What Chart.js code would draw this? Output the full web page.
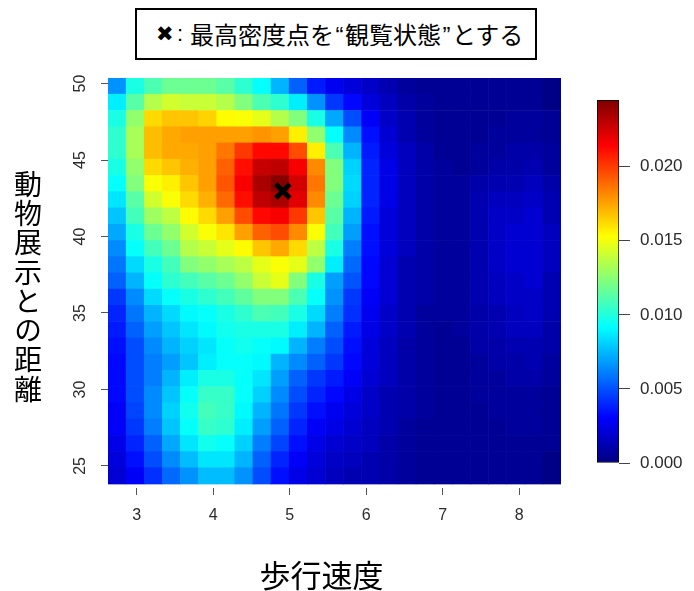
<!DOCTYPE html>
<html>
<head>
<meta charset="utf-8">
<script src="https://cdn.jsdelivr.net/npm/chart.js@4.4.1/dist/chart.umd.min.js"></script>
<style>
  html, body { margin: 0; padding: 0; background: #fff; }
  body { width: 694px; height: 591px; position: relative; overflow: hidden; font-family: "Noto Sans CJK JP", sans-serif; }
  #main { position: absolute; left: 0; top: 0; }
  #cbar { position: absolute; left: 560px; top: 0; }
  #legend { position: absolute; left: 135px; top: 8px; width: 398px; height: 48px; border: 2px solid #000; background: #fff; }
  #legend span { position: absolute; top: 0; line-height: 48px; white-space: nowrap; color: #000; }
  #lx { left: 19px; font-family: "DejaVu Sans", sans-serif; font-size: 21px; }
  #lc { left: 40px; font-family: "Liberation Sans", sans-serif; font-size: 22px; }
  #lt { left: 53px; font-family: "Noto Sans CJK JP", sans-serif; font-size: 24px; }
  #lt i { font-style: normal; font-family: "Liberation Sans", sans-serif; display: inline-block; width: 11px; text-align: center; position: static; }
  #xt { position: absolute; left: 0; width: 643px; top: 556px; text-align: center; font-size: 31px; line-height: 36px; color: #000; }
  #yt { position: absolute; left: 14px; top: 170px; writing-mode: vertical-rl; font-size: 28px; line-height: 28px; letter-spacing: 1.3px; color: #000; }
</style>
</head>
<body>
<canvas id="main" width="694" height="591"></canvas>
<canvas id="cbar" width="134" height="591"></canvas>
<div id="legend"><span id="lx">✖</span><span id="lc">:</span><span id="lt">最高密度点を<i>“</i>観覧状態<i>”</i>とする</span></div>
<div id="xt">歩行速度</div>
<div id="yt">動物展示との距離</div>
<script>
// ---- data (kde grid) ----
// walking speed grid (x), column centres
const xGrid = [2.743, 2.980, 3.217, 3.453, 3.690, 3.927, 4.164, 4.401, 4.637, 4.874, 5.111, 5.348, 5.585,
               5.821, 6.058, 6.295, 6.532, 6.769, 7.005, 7.242, 7.479, 7.716, 7.953, 8.189, 8.426];
// distance grid (y), row centres from top to bottom
const yGrid = [49.83, 48.77, 47.70, 46.64, 45.58, 44.52, 43.46, 42.40, 41.34, 40.27, 39.21, 38.15, 37.09,
               36.03, 34.97, 33.90, 32.84, 31.78, 30.72, 29.66, 28.60, 27.54, 26.47, 25.41, 24.35];
// density values, one row per yGrid entry (top -> bottom), one column per xGrid entry
const density = [
  [0.0066,0.0098,0.0110,0.0118,0.0118,0.0118,0.0113,0.0103,0.0093,0.0074,0.0054,0.0037,0.0027,0.0022,0.0017,0.0012,0.0007,0.0005,0.0005,0.0005,0.0005,0.0005,0.0005,0.0005,0.0002],
  [0.0088,0.0113,0.0135,0.0142,0.0140,0.0140,0.0135,0.0123,0.0110,0.0103,0.0088,0.0066,0.0044,0.0032,0.0022,0.0015,0.0010,0.0007,0.0005,0.0005,0.0005,0.0005,0.0005,0.0005,0.0002],
  [0.0098,0.0127,0.0162,0.0167,0.0167,0.0164,0.0154,0.0152,0.0147,0.0135,0.0123,0.0098,0.0071,0.0049,0.0029,0.0017,0.0012,0.0007,0.0005,0.0005,0.0005,0.0005,0.0007,0.0007,0.0005],
  [0.0103,0.0132,0.0169,0.0174,0.0176,0.0176,0.0176,0.0176,0.0179,0.0176,0.0157,0.0127,0.0093,0.0064,0.0034,0.0020,0.0012,0.0007,0.0005,0.0005,0.0005,0.0007,0.0007,0.0007,0.0005],
  [0.0103,0.0132,0.0169,0.0174,0.0174,0.0176,0.0186,0.0201,0.0213,0.0213,0.0196,0.0157,0.0110,0.0074,0.0037,0.0022,0.0015,0.0010,0.0005,0.0005,0.0007,0.0007,0.0010,0.0010,0.0007],
  [0.0098,0.0127,0.0162,0.0167,0.0172,0.0176,0.0191,0.0211,0.0228,0.0230,0.0216,0.0181,0.0123,0.0081,0.0039,0.0025,0.0015,0.0010,0.0007,0.0005,0.0007,0.0010,0.0010,0.0012,0.0007],
  [0.0093,0.0123,0.0152,0.0157,0.0167,0.0176,0.0194,0.0216,0.0235,0.0243,0.0225,0.0186,0.0123,0.0083,0.0039,0.0025,0.0015,0.0010,0.0007,0.0007,0.0010,0.0012,0.0012,0.0015,0.0010],
  [0.0086,0.0113,0.0142,0.0152,0.0162,0.0172,0.0189,0.0211,0.0230,0.0235,0.0221,0.0181,0.0118,0.0081,0.0039,0.0025,0.0015,0.0010,0.0007,0.0007,0.0012,0.0015,0.0015,0.0017,0.0012],
  [0.0078,0.0108,0.0130,0.0137,0.0154,0.0162,0.0176,0.0196,0.0213,0.0216,0.0201,0.0167,0.0113,0.0074,0.0037,0.0022,0.0015,0.0010,0.0007,0.0007,0.0012,0.0017,0.0017,0.0020,0.0012],
  [0.0071,0.0098,0.0118,0.0127,0.0142,0.0152,0.0159,0.0176,0.0191,0.0196,0.0181,0.0152,0.0108,0.0069,0.0034,0.0022,0.0015,0.0010,0.0007,0.0007,0.0012,0.0017,0.0020,0.0020,0.0015],
  [0.0064,0.0093,0.0108,0.0118,0.0135,0.0140,0.0147,0.0154,0.0167,0.0174,0.0162,0.0137,0.0098,0.0061,0.0034,0.0022,0.0015,0.0010,0.0007,0.0007,0.0012,0.0017,0.0020,0.0020,0.0015],
  [0.0059,0.0083,0.0098,0.0108,0.0123,0.0127,0.0132,0.0137,0.0147,0.0152,0.0147,0.0127,0.0088,0.0056,0.0032,0.0020,0.0012,0.0010,0.0007,0.0007,0.0012,0.0017,0.0020,0.0020,0.0015],
  [0.0054,0.0074,0.0093,0.0103,0.0108,0.0113,0.0118,0.0127,0.0140,0.0147,0.0123,0.0098,0.0069,0.0051,0.0032,0.0020,0.0012,0.0010,0.0007,0.0007,0.0012,0.0015,0.0017,0.0020,0.0012],
  [0.0044,0.0064,0.0083,0.0093,0.0098,0.0103,0.0108,0.0115,0.0123,0.0123,0.0110,0.0093,0.0066,0.0044,0.0029,0.0020,0.0012,0.0010,0.0007,0.0007,0.0012,0.0015,0.0017,0.0017,0.0012],
  [0.0039,0.0059,0.0074,0.0083,0.0091,0.0093,0.0098,0.0103,0.0110,0.0108,0.0098,0.0083,0.0061,0.0042,0.0027,0.0017,0.0012,0.0007,0.0007,0.0007,0.0010,0.0012,0.0015,0.0017,0.0012],
  [0.0037,0.0054,0.0069,0.0078,0.0086,0.0091,0.0096,0.0098,0.0098,0.0098,0.0088,0.0074,0.0054,0.0037,0.0025,0.0017,0.0012,0.0007,0.0005,0.0007,0.0010,0.0012,0.0015,0.0015,0.0010],
  [0.0034,0.0049,0.0064,0.0074,0.0081,0.0086,0.0093,0.0096,0.0093,0.0091,0.0074,0.0061,0.0049,0.0034,0.0022,0.0015,0.0010,0.0007,0.0005,0.0005,0.0010,0.0010,0.0012,0.0012,0.0010],
  [0.0032,0.0049,0.0061,0.0069,0.0078,0.0088,0.0093,0.0093,0.0091,0.0074,0.0064,0.0054,0.0044,0.0032,0.0022,0.0015,0.0010,0.0007,0.0005,0.0005,0.0007,0.0010,0.0010,0.0012,0.0007],
  [0.0032,0.0049,0.0061,0.0074,0.0088,0.0098,0.0098,0.0093,0.0086,0.0069,0.0054,0.0044,0.0037,0.0029,0.0020,0.0015,0.0010,0.0007,0.0005,0.0005,0.0007,0.0007,0.0010,0.0010,0.0007],
  [0.0032,0.0049,0.0064,0.0078,0.0093,0.0105,0.0105,0.0093,0.0081,0.0064,0.0049,0.0039,0.0032,0.0025,0.0017,0.0012,0.0010,0.0007,0.0005,0.0005,0.0007,0.0007,0.0007,0.0007,0.0005],
  [0.0029,0.0047,0.0064,0.0081,0.0096,0.0108,0.0105,0.0091,0.0074,0.0059,0.0044,0.0034,0.0027,0.0022,0.0017,0.0012,0.0010,0.0007,0.0005,0.0005,0.0005,0.0007,0.0007,0.0007,0.0005],
  [0.0029,0.0044,0.0061,0.0078,0.0093,0.0105,0.0103,0.0088,0.0069,0.0054,0.0039,0.0029,0.0025,0.0020,0.0015,0.0012,0.0007,0.0005,0.0005,0.0005,0.0005,0.0005,0.0007,0.0007,0.0005],
  [0.0025,0.0039,0.0054,0.0071,0.0086,0.0096,0.0093,0.0081,0.0061,0.0047,0.0034,0.0025,0.0020,0.0017,0.0015,0.0010,0.0007,0.0005,0.0005,0.0005,0.0005,0.0005,0.0005,0.0005,0.0005],
  [0.0022,0.0034,0.0049,0.0064,0.0076,0.0086,0.0086,0.0074,0.0054,0.0039,0.0029,0.0022,0.0017,0.0015,0.0012,0.0010,0.0007,0.0005,0.0005,0.0005,0.0005,0.0005,0.0005,0.0005,0.0002],
  [0.0020,0.0029,0.0042,0.0056,0.0066,0.0076,0.0076,0.0066,0.0049,0.0034,0.0025,0.0020,0.0015,0.0012,0.0012,0.0010,0.0007,0.0005,0.0005,0.0005,0.0005,0.0005,0.0005,0.0005,0.0002]
];
// highest-density point ("観覧状態")
const peakX = [4.91];
const peakY = [42.97];
// axis limits and ticks
const xLimits = [2.625, 8.545];
const yLimits = [23.56, 50.36];
const xTickStep = 1;
const yTickStep = 5;
// colour scale
const zMax = 0.0245;
const colorbarTicks = [0.000, 0.005, 0.010, 0.015, 0.020];
const jetStops = ['#00007F', '#0000FF', '#007FFF', '#00FFFF', '#7FFF7F', '#FFFF00', '#FF7F00', '#FF0000', '#7F0000'];

// ---- helpers ----
function hexRgb(h) { return [parseInt(h.slice(1,3),16), parseInt(h.slice(3,5),16), parseInt(h.slice(5,7),16)]; }
const jetRgb = jetStops.map(hexRgb);
function jet(t) {
  t = Math.max(0, Math.min(1, t));
  const s = t * (jetRgb.length - 1);
  const i = Math.min(jetRgb.length - 2, Math.floor(s));
  const f = s - i;
  const a = jetRgb[i], b = jetRgb[i + 1];
  const c = a.map((v, k) => Math.round(v + (b[k] - v) * f));
  return 'rgb(' + c.join(',') + ')';
}

const halfRow = Math.abs(yGrid[0] - yGrid[1]) / 2;
const cells = [];
density.forEach((row, r) => {
  row.forEach((z, c) => {
    cells.push({ x: xGrid[c], y: [yGrid[r] - halfRow, yGrid[r] + halfRow], z: z });
  });
});

const tickFont = { family: 'Liberation Sans', size: 16 };
const tickColor = '#2b2b2b';

new Chart(document.getElementById('main'), {
  type: 'bar',
  data: {
    datasets: [
      {
        type: 'scatter',
        data: peakX.map((x, i) => ({ x: x, y: peakY[i] })),
        pointStyle: 'crossRot',
        radius: 10,
        borderWidth: 5,
        borderColor: '#000',
        backgroundColor: '#000',
        order: 1
      },
      {
        type: 'bar',
        data: cells,
        backgroundColor: (ctx) => ctx.raw ? jet(ctx.raw.z / zMax) : '#000',
        borderWidth: 0,
        barPercentage: 1,
        categoryPercentage: 1,
        grouped: false,
        order: 2
      }
    ]
  },
  options: {
    responsive: false,
    devicePixelRatio: 1,
    animation: false,
    events: [],
    layout: { padding: { left: 68, right: 133, top: 78, bottom: 53 } },
    plugins: { legend: { display: false }, tooltip: { enabled: false } },
    scales: {
      x: {
        type: 'linear',
        position: 'bottom',
        min: xLimits[0],
        max: xLimits[1],
        offset: false,
        grid: { offset: false, drawOnChartArea: false, drawTicks: true, tickLength: 7, color: '#555', lineWidth: 1 },
        border: { display: false },
        ticks: { stepSize: xTickStep, includeBounds: false, maxRotation: 0, color: tickColor, font: tickFont, padding: 11,
                 callback: (v) => String(v) },
        afterFit: (s) => { s.height = 50; }
      },
      y: {
        type: 'linear',
        position: 'left',
        min: yLimits[0],
        max: yLimits[1],
        grid: { drawOnChartArea: false, drawTicks: true, tickLength: 7, color: '#555', lineWidth: 1 },
        border: { display: false },
        ticks: { stepSize: yTickStep, includeBounds: false, minRotation: 90, maxRotation: 90, crossAlign: 'center',
                 color: tickColor, font: tickFont, padding: 12, callback: (v) => String(v) },
        afterFit: (s) => { s.width = 40; }
      }
    }
  }
});

new Chart(document.getElementById('cbar'), {
  type: 'bar',
  data: {
    labels: [''],
    datasets: [{
      data: [[0, zMax]],
      backgroundColor: (ctx) => {
        const ch = ctx.chart;
        if (!ch.chartArea || !ch.scales.y) return '#000';
        const ys = ch.scales.y;
        const g = ch.ctx.createLinearGradient(0, ys.getPixelForValue(0), 0, ys.getPixelForValue(zMax));
        jetStops.forEach((col, i) => g.addColorStop(i / (jetStops.length - 1), col));
        return g;
      },
      borderColor: '#000',
      borderWidth: 1,
      borderSkipped: false,
      barPercentage: 1,
      categoryPercentage: 1
    }]
  },
  options: {
    responsive: false,
    devicePixelRatio: 1,
    animation: false,
    events: [],
    layout: { padding: { left: 37, right: 0, top: 100, bottom: 128 } },
    plugins: { legend: { display: false }, tooltip: { enabled: false } },
    scales: {
      x: { display: false },
      y: {
        position: 'right',
        min: 0,
        max: zMax,
        grid: { drawOnChartArea: false, drawTicks: true, tickLength: 11, color: '#444' },
        border: { display: false },
        afterBuildTicks: (s) => { s.ticks = colorbarTicks.map((v) => ({ value: v })); },
        ticks: { color: tickColor, font: { family: 'Liberation Sans', size: 17 }, padding: 10, callback: (v) => Number(v).toFixed(3) },
        afterFit: (s) => { s.width = 75; }
      }
    }
  }
});
</script>
</body>
</html>
